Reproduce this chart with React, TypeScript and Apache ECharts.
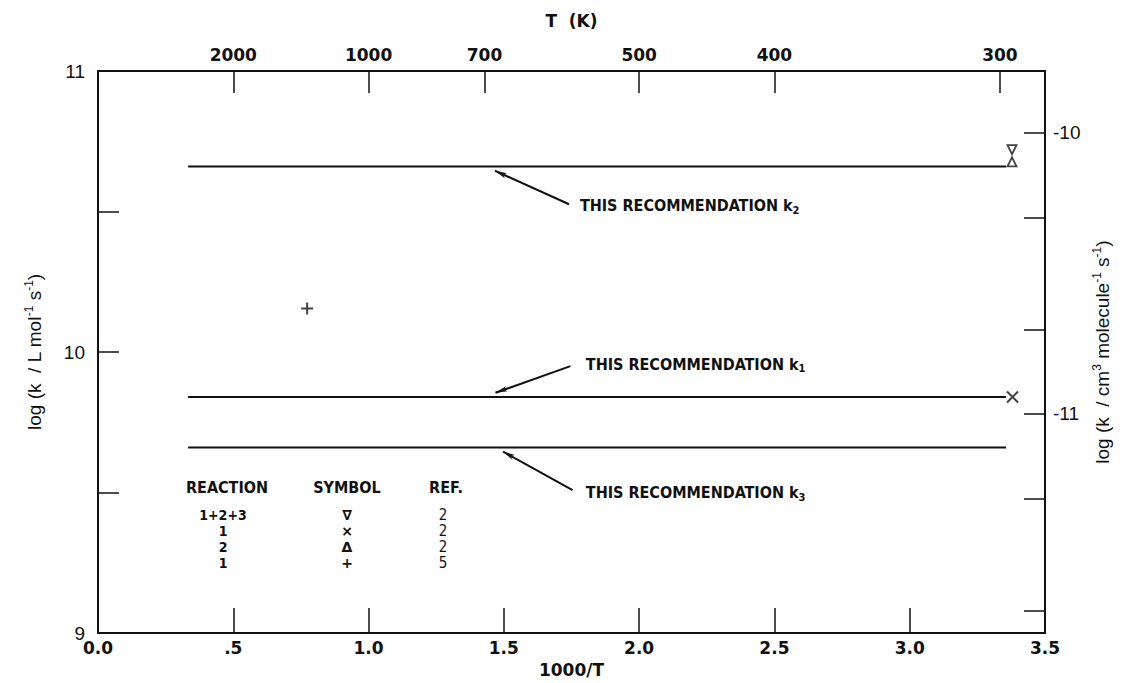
import React, { useEffect, useRef } from "react";
import * as echarts from "echarts";

// ---- axes ----
const X_MIN = 0;
const X_MAX = 3.5;
const X_STEP = 0.5;
const Y_MIN = 9;
const Y_MAX = 11;
const leftTicks = [9, 9.5, 10, 10.5, 11];
const leftLabels = [9, 10, 11];
const bottomLabels = ["0.0", ".5", "1.0", "1.5", "2.0", "2.5", "3.0", "3.5"];
const topTemps = [2000, 1000, 700, 500, 400, 300];
const LOG_L_PER_MOLECULE = 20.7797; // log10(NA / 1000)
const rightTicks = [-10, -10.301, -10.699, -11, -11.301, -11.699];
const rightLabels = [-10, -11];

// ---- data ----
const recX = [0.333, 3.356];
const k1 = 9.84;
const k2 = 10.66;
const k3 = 9.66;
const nablaPts = [[3.378, 10.72]];
const deltaPts = [[3.378, 10.677]];
const crossPts = [[3.38, 9.84]];
const plusPts = [[0.773, 10.155]];

// ---- annotations (data coords) ----
const arrowK2 = [[1.741, 10.526], [1.467, 10.645]];
const arrowK1 = [[1.746, 9.95], [1.469, 9.855]];
const arrowK3 = [[1.754, 9.509], [1.497, 9.646]];
const noteK2 = [1.781, 10.52];
const noteK1 = [1.803, 9.957];
const noteK3 = [1.803, 9.5];

// ---- legend table ----
const legendHeader = ["REACTION", "SYMBOL", "REF."];
const legendReaction = ["1+2+3", "1", "2", "1"];
const legendSymbol = ["∇", "×", "Δ", "+"];
const legendRef = ["2", "2", "2", "5"];

const BLACK = "#111";
const NARROW = "'Liberation Sans Narrow', 'DejaVu Sans Condensed', 'Liberation Sans', sans-serif";
const tickFont = { fontFamily: "DejaVu Sans", fontWeight: "bold" as const, fontSize: 17, color: BLACK };
const yLabFont = { fontFamily: "Liberation Sans", fontSize: 19, color: BLACK };

function lineSeries(y: number, extra: any = {}) {
  return {
    type: "line",
    data: recX.map((x) => [x, y]),
    symbol: "none",
    lineStyle: { color: BLACK, width: 2 },
    z: 2,
    ...extra,
  };
}

const noteRich = {
  t: { fontFamily: NARROW, fontWeight: "bold", fontSize: 16, color: BLACK },
  s: { fontFamily: NARROW, fontWeight: "bold", fontSize: 11, color: BLACK, padding: [9, 0, 0, 0] },
};

const nameRich = {
  b: { fontFamily: "Liberation Sans", fontSize: 19, color: BLACK },
  sup: { fontFamily: "Liberation Sans", fontSize: 12, color: BLACK, padding: [0, 0, 10, 0] },
};

function buildLegend() {
  const els: any[] = [];
  const colX = [227, 347, 446];
  const headY = 487;
  const rowY = [515, 531, 547, 563];
  legendHeader.forEach((h, i) =>
    els.push({
      type: "text",
      x: colX[i],
      y: headY,
      style: { text: h, fontFamily: NARROW, fontWeight: "bold", fontSize: 16, lineHeight: 16, fill: BLACK, align: "center", verticalAlign: "middle" },
    })
  );
  rowY.forEach((y, r) => {
    els.push({
      type: "text",
      x: 223,
      y,
      style: { text: legendReaction[r], fontFamily: NARROW, fontWeight: "bold", fontSize: 14, lineHeight: 15, fill: BLACK, align: "center", verticalAlign: "middle" },
    });
    els.push({
      type: "text",
      x: 347,
      y,
      style: { text: legendSymbol[r], fontFamily: "DejaVu Sans", fontWeight: "bold", fontSize: 14, lineHeight: 15, fill: BLACK, align: "center", verticalAlign: "middle" },
    });
    els.push({
      type: "text",
      x: 443,
      y,
      style: { text: legendRef[r], fontFamily: NARROW, fontSize: 15, lineHeight: 15, fill: BLACK, align: "center", verticalAlign: "middle" },
    });
  });
  return els;
}

function buildOption(): any {
  return {
    animation: false,
    backgroundColor: "#fff",
    grid: { left: 98, right: 98, top: 71, bottom: 42 },
    xAxis: [
      {
        type: "value",
        position: "bottom",
        min: X_MIN,
        max: X_MAX,
        interval: X_STEP,
        axisLine: { show: true, onZero: false, lineStyle: { color: BLACK, width: 2 } },
        axisTick: { show: true, inside: true, length: 25, lineStyle: { color: BLACK, width: 1.5 } },
        axisLabel: { ...tickFont, margin: 6, formatter: (v: number) => bottomLabels[Math.round(v / X_STEP)] ?? "" },
        splitLine: { show: false },
        name: "1000/T",
        nameLocation: "middle",
        nameGap: 22,
        nameTextStyle: { ...tickFont },
      },
      {
        type: "value",
        position: "top",
        min: X_MIN,
        max: X_MAX,
        axisLine: { show: true, onZero: false, lineStyle: { color: BLACK, width: 2 } },
        axisTick: {
          show: true,
          inside: true,
          length: 22,
          lineStyle: { color: BLACK, width: 1.5 },
          customValues: topTemps.map((t) => 1000 / t),
        },
        axisLabel: {
          ...tickFont,
          margin: 8,
          customValues: topTemps.map((t) => 1000 / t),
          formatter: (v: number) => String(Math.round(1000 / v)),
        },
        splitLine: { show: false },
        name: "T  (K)",
        nameLocation: "middle",
        nameGap: 42,
        nameTextStyle: { ...tickFont },
      },
    ],
    yAxis: [
      {
        type: "value",
        position: "left",
        min: Y_MIN,
        max: Y_MAX,
        axisLine: { show: true, onZero: false, lineStyle: { color: BLACK, width: 2 } },
        axisTick: {
          show: true,
          inside: true,
          length: 21,
          lineStyle: { color: BLACK, width: 1.5 },
          customValues: leftTicks,
        },
        axisLabel: { ...yLabFont, margin: 13, customValues: leftLabels, formatter: (v: number) => String(v) },
        splitLine: { show: false },
        name: "{b|log (k  / L mol}{sup|-1}{b| s}{sup|-1}{b|)}",
        nameLocation: "middle",
        nameRotate: 90,
        nameGap: 53,
        nameTextStyle: { rich: nameRich },
      },
      {
        type: "value",
        position: "right",
        min: Y_MIN - LOG_L_PER_MOLECULE,
        max: Y_MAX - LOG_L_PER_MOLECULE,
        axisLine: { show: true, onZero: false, lineStyle: { color: BLACK, width: 2 } },
        axisTick: {
          show: true,
          inside: true,
          length: 21,
          lineStyle: { color: BLACK, width: 1.5 },
          customValues: rightTicks,
        },
        axisLabel: { ...yLabFont, margin: 8, customValues: rightLabels, formatter: (v: number) => String(v) },
        splitLine: { show: false },
        name: "{b|log (k  / cm}{sup|3}{b| molecule}{sup|-1}{b| s}{sup|-1}{b|)}",
        nameLocation: "middle",
        nameRotate: 90,
        nameGap: 44,
        nameTextStyle: { rich: nameRich },
      },
    ],
    series: [
      lineSeries(k2),
      lineSeries(k1, {
        markLine: {
          silent: true,
          symbol: ["none", "arrow"],
          symbolSize: [4, 12],
          label: { show: false },
          lineStyle: { color: BLACK, width: 2, type: "solid" },
          data: [arrowK2, arrowK1, arrowK3].map((a) => [{ coord: a[0] }, { coord: a[1] }]),
        },
        markPoint: {
          silent: true,
          symbol: "circle",
          symbolSize: 0,
          label: { show: true, position: "right", distance: 0, rich: noteRich },
          data: [
            { coord: noteK2, label: { formatter: "{t|THIS RECOMMENDATION k}{s|2}" } },
            { coord: noteK1, label: { formatter: "{t|THIS RECOMMENDATION k}{s|1}" } },
            { coord: noteK3, label: { formatter: "{t|THIS RECOMMENDATION k}{s|3}" } },
          ],
        },
      }),
      lineSeries(k3),
      {
        type: "scatter",
        data: nablaPts,
        symbol: "triangle",
        symbolRotate: 180,
        symbolSize: 9,
        itemStyle: { color: "#fff", borderColor: BLACK, borderWidth: 1.8 },
        z: 3,
      },
      {
        type: "scatter",
        data: deltaPts,
        symbol: "triangle",
        symbolSize: 9,
        itemStyle: { color: "#fff", borderColor: BLACK, borderWidth: 1.8 },
        z: 3,
      },
      {
        type: "scatter",
        data: crossPts,
        symbol: "path://M0,0L10,10M10,0L0,10",
        symbolSize: 11,
        itemStyle: { color: "none", borderColor: BLACK, borderWidth: 2 },
        z: 3,
      },
      {
        type: "scatter",
        data: plusPts,
        symbol: "path://M5,0L5,10M0,5L10,5",
        symbolSize: 12,
        itemStyle: { color: "none", borderColor: BLACK, borderWidth: 2 },
        z: 3,
      },
    ],
    graphic: buildLegend(),
  };
}

export default function App() {
  const ref = useRef<HTMLDivElement>(null);
  useEffect(() => {
    document.body.style.margin = "0";
    const chart = echarts.init(ref.current as HTMLDivElement, null, { renderer: "svg" });
    chart.setOption(buildOption());
    return () => chart.dispose();
  }, []);
  return <div ref={ref} style={{ width: 1143, height: 683 }} />;
}
